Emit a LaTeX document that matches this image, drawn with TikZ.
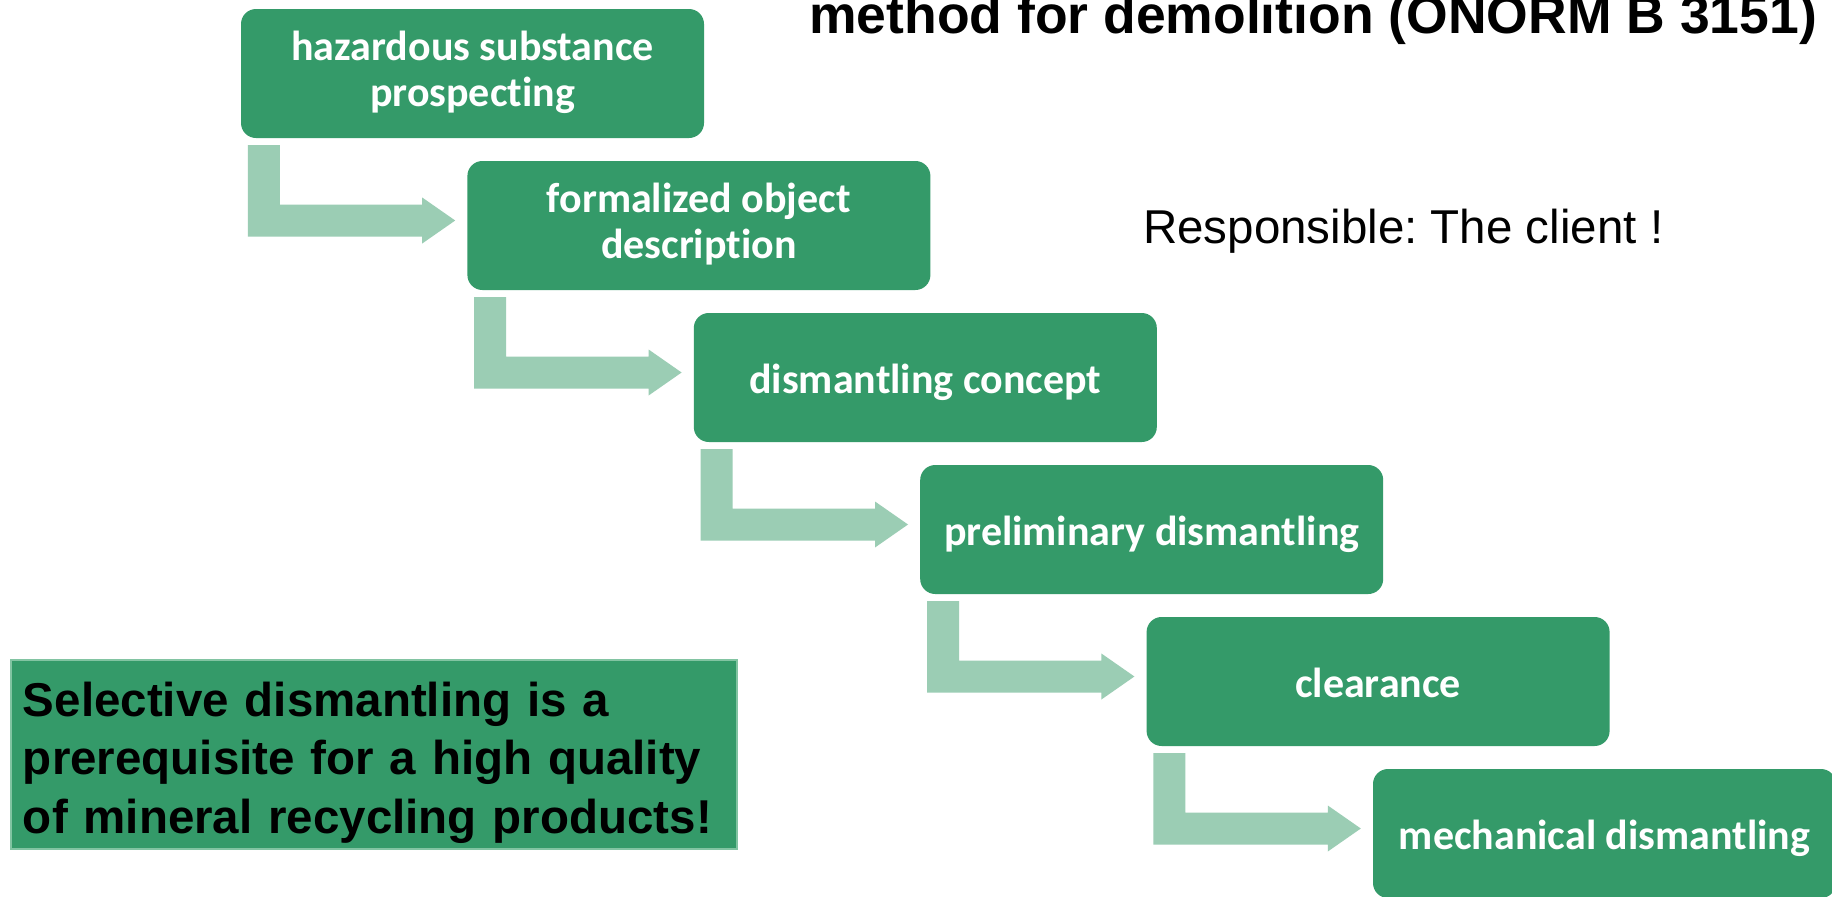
\documentclass[tikz,border=0pt]{standalone}
\usepackage{fontspec}
\setmainfont{Liberation Sans}
\newfontfamily\calibri[Ligatures=NoCommon]{Carlito}
\usetikzlibrary{calc}
\frenchspacing

\definecolor{stepgreen}{RGB}{52,154,105}
\definecolor{flowgreen}{RGB}{155,205,180}
\definecolor{noteedge}{RGB}{130,196,162}

\begin{document}
\begin{tikzpicture}[
  x=1pt,
  y=-1pt,
  stepbox/.style={fill=stepgreen, rounded corners=15pt, minimum width=463pt,
    minimum height=129pt, inner sep=0pt, align=center, text=white,
    font=\calibri\bfseries\fontsize{42}{46}\selectfont,
    execute at begin node={\rule[-9pt]{0pt}{49pt}}},
  flowarrow/.style={fill=flowgreen},
  notebox/.style={fill=stepgreen, draw=noteedge, line width=1.5pt,
    minimum width=726pt, minimum height=189pt, text width=702pt,
    inner xsep=12pt, align=left, font=\bfseries\fontsize{47.5}{58.5}\selectfont,
    execute at begin node={\rule{0pt}{51pt}}}
]

% Page size and white background
\useasboundingbox (0,0) rectangle (1832,897);
\clip (0,0) rectangle (1832,897);
\fill[white] (0,0) rectangle (1832,897);

% Title, cut off at the top
\node[anchor=base west, inner sep=0pt, font=\bfseries\fontsize{53.5}{60}\selectfont]
  (title) at (809,33) {method for demolition (ONORM B 3151)};

% Who is responsible
\node[anchor=base west, inner sep=0pt, font=\fontsize{47.5}{55}\selectfont]
  (resp) at (1143,243) {Responsible: The client !};

% Steps
\node[stepbox] (haz) at (472.5,73.5) {hazardous substance\\prospecting};
\node[stepbox] (formal) at (698.9,225.5) {formalized object\\description};
\node[stepbox] (concept) at (925.3,377.5) {dismantling concept};
\node[stepbox] (prelim) at (1151.7,529.5) {preliminary dismantling};
\node[stepbox] (clear) at (1378.1,681.5) {clearance};
\node[stepbox] (mech) at (1604.5,833.5) {mechanical dismantling};

% Bent arrows between the steps
\foreach \src/\dst in {haz/formal,formal/concept,concept/prelim,prelim/clear,clear/mech} {
  \fill[flowarrow] let \p1=(\src.south west), \p2=(\dst.west) in
    (\x1+7pt,\y1-7pt) -- (\x1+39pt,\y1-7pt) -- (\x1+39pt,\y2+21pt)
    -- (\x2-45pt,\y2+21pt) -- (\x2-45pt,\y2+28pt) -- (\x2-12pt,\y2+5pt)
    -- (\x2-45pt,\y2-18pt) -- (\x2-45pt,\y2-11pt) -- (\x1+7pt,\y2-11pt) -- cycle;
}

% Note
\node[notebox] (note) at (374,754.5) {Selective dismantling is a\\prerequisite for a high quality\\of mineral recycling products!};

\end{tikzpicture}
\end{document}
